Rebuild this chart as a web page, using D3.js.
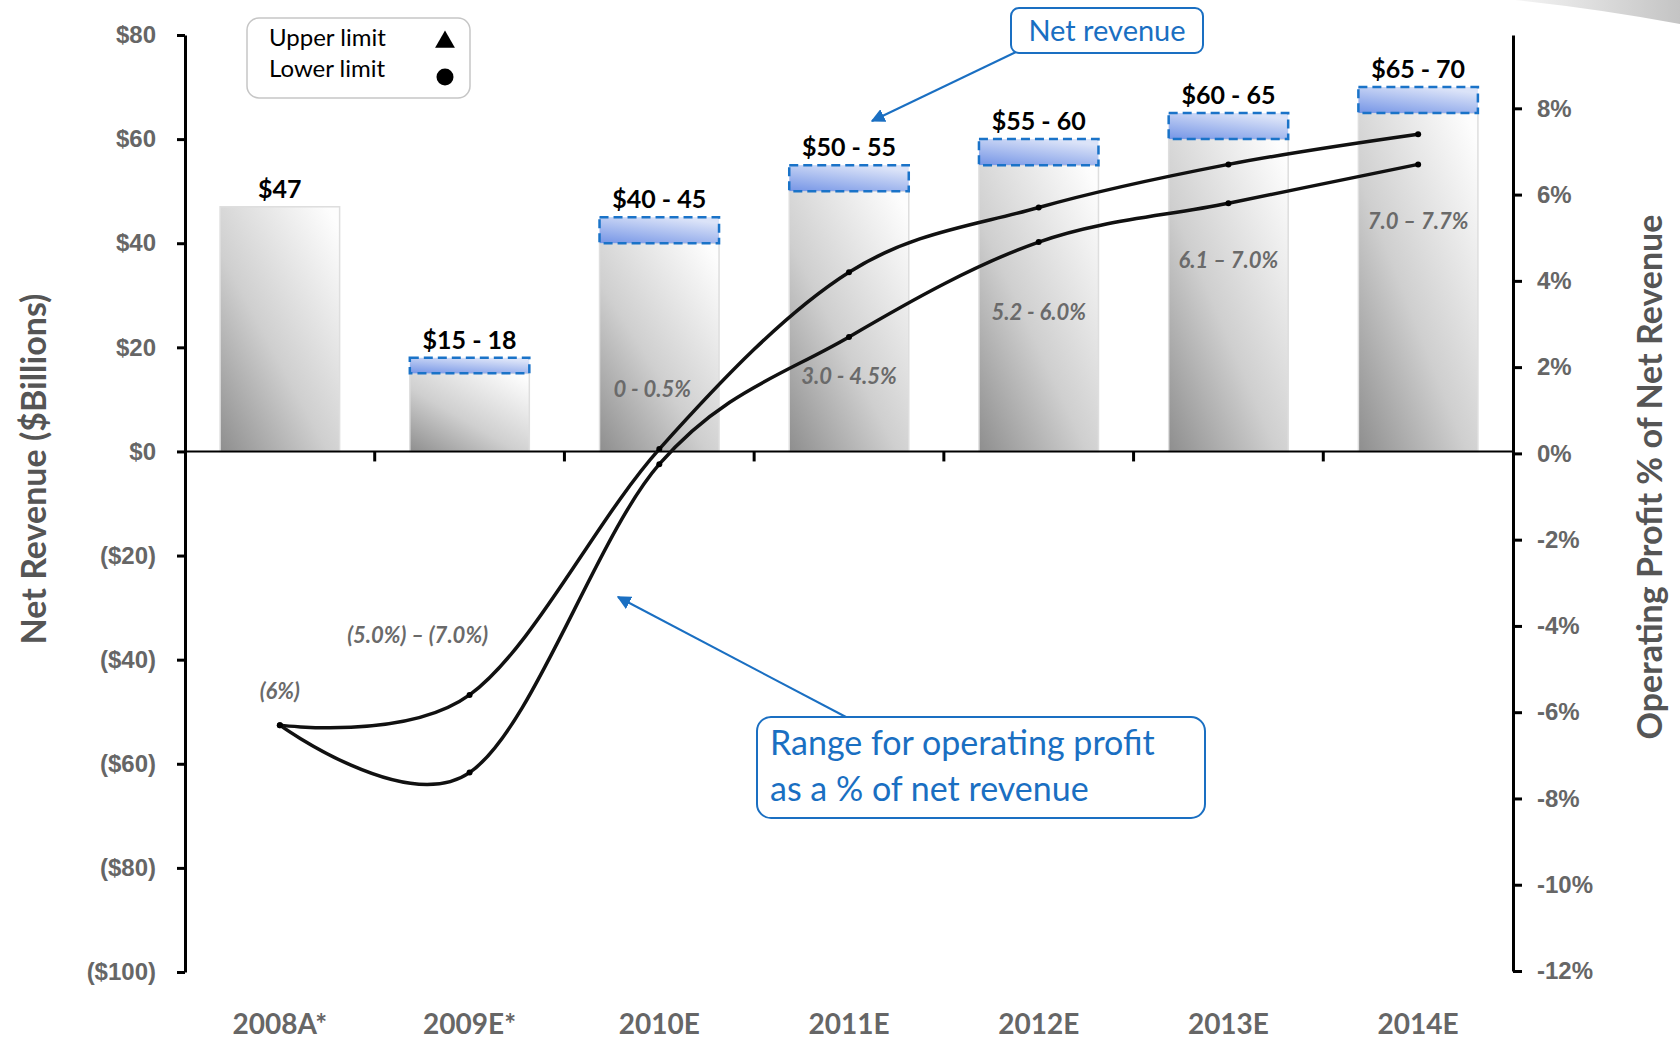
<!DOCTYPE html>
<html>
<head>
<meta charset="utf-8">
<script src="https://cdn.jsdelivr.net/npm/d3@7"></script>
<style>
  body { margin: 0; background: #fff; }
  svg { display: block; font-family: Lato, "DejaVu Sans", sans-serif; }
  .axis text { fill: #666; font-weight: bold; font-size: 24px; }
  .axis path, .axis line { stroke: #000; stroke-width: 3px; }
</style>
</head>
<body>
<svg width="1680" height="1046"></svg>
<script>
// **** Data ****
var categories = ["2008A*", "2009E*", "2010E", "2011E", "2012E", "2013E", "2014E"];
var revenueLow = [47, 15, 40, 50, 55, 60, 65];
var revenueHigh = [47, 18, 45, 55, 60, 65, 70];
var revenueLabels = ["$47", "$15 - 18", "$40 - 45", "$50 - 55", "$55 - 60", "$60 - 65", "$65 - 70"];
var marginUpper = [-6.3, -5.6, 0.1, 4.2, 5.7, 6.7, 7.4];
var marginLower = [-6.3, -7.4, -0.25, 2.7, 4.9, 5.8, 6.7];
var marginLabels = ["(6%)", "(5.0%) \u2013 (7.0%)", "0 - 0.5%", "3.0 - 4.5%", "5.2 - 6.0%", "6.1 \u2013 7.0%", "7.0 \u2013 7.7%"];
var marginLabelPct = [-5.5, -4.2, 1.5, 1.8, 3.3, 4.5, 5.4];
var revenueTicks = [80, 60, 40, 20, 0, -20, -40, -60, -80, -100];
var marginTicks = [8, 6, 4, 2, 0, -2, -4, -6, -8, -10, -12];

var svg = d3.select('svg');

// **** Scales ****
var x = d3.scaleBand().domain(categories).range([185, 1513])
    .paddingInner(0.37).paddingOuter(0.185);
var yL = d3.scaleLinear().domain([-100, 80]).range([972, 35]);
var yR = d3.scaleLinear().domain([-12, 9.7]).range([971, 35]);

function cx(c) { return x(c) + x.bandwidth() / 2; }

// **** Gradients ****
var defs = svg.append('defs');
var g1 = defs.append('linearGradient').attr('id', 'barGrad')
    .attr('x1', 0).attr('y1', 1).attr('x2', 0.9).attr('y2', 0);
g1.append('stop').attr('offset', '0%').attr('stop-color', '#8e8e8e');
g1.append('stop').attr('offset', '45%').attr('stop-color', '#cfcfcf');
g1.append('stop').attr('offset', '100%').attr('stop-color', '#fdfdfd');

var g2 = defs.append('linearGradient').attr('id', 'boxGrad')
    .attr('x1', 0).attr('y1', 1).attr('x2', 0.6).attr('y2', 0);
g2.append('stop').attr('offset', '0%').attr('stop-color', '#7595e6');
g2.append('stop').attr('offset', '100%').attr('stop-color', '#dbe3f8');

var g3 = defs.append('linearGradient').attr('id', 'swoosh')
    .attr('x1', 0).attr('y1', 0).attr('x2', 1).attr('y2', 0);
g3.append('stop').attr('offset', '0%').attr('stop-color', '#f4f4f4');
g3.append('stop').attr('offset', '100%').attr('stop-color', '#c4c4c4');

defs.append('marker').attr('id', 'arrow')
    .attr('viewBox', '0 0 10 10').attr('refX', 9).attr('refY', 5)
    .attr('markerWidth', 7).attr('markerHeight', 7).attr('markerUnits', 'strokeWidth')
    .attr('orient', 'auto')
    .append('path').attr('d', 'M0,0 L10,5 L0,10 Z').attr('fill', '#1a6fc2');

// decorative swoosh top right
svg.append('path')
    .attr('d', 'M1515,0 L1680,0 L1680,24 Q1600,9 1515,0 Z')
    .attr('fill', 'url(#swoosh)');

// **** Bars ****
svg.append('g').selectAll('rect')
    .data(categories)
    .enter()
    .append('rect')
    .attr('x', function (d) { return x(d); })
    .attr('y', function (d, i) { return yL(revenueLow[i]); })
    .attr('width', x.bandwidth())
    .attr('height', function (d, i) { return yL(0) - yL(revenueLow[i]); })
    .attr('fill', 'url(#barGrad)')
    .attr('stroke', '#dedede')
    .attr('stroke-width', 1.5);

// range boxes (blue, dashed)
svg.append('g').selectAll('rect')
    .data(categories.filter(function (d, i) { return revenueHigh[i] > revenueLow[i]; }))
    .enter()
    .append('rect')
    .attr('x', function (d) { return x(d); })
    .attr('y', function (d) { return yL(revenueHigh[categories.indexOf(d)]); })
    .attr('width', x.bandwidth())
    .attr('height', function (d) {
        var i = categories.indexOf(d);
        return yL(revenueLow[i]) - yL(revenueHigh[i]);
    })
    .attr('fill', 'url(#boxGrad)')
    .attr('stroke', '#1a73c8')
    .attr('stroke-width', 2.5)
    .attr('stroke-dasharray', '9,5');

// revenue labels
svg.append('g').selectAll('text')
    .data(categories)
    .enter()
    .append('text')
    .attr('x', function (d) { return cx(d); })
    .attr('y', function (d, i) { return yL(revenueHigh[i]) - 9; })
    .attr('text-anchor', 'middle')
    .style('font-size', '25px')
    .style('font-weight', 'bold')
    .style('fill', '#000')
    .text(function (d, i) { return revenueLabels[i]; });

// margin labels
var labelNudge = [0, -52, -7, 0, 0, 0, 0];
svg.append('g').selectAll('text')
    .data(categories)
    .enter()
    .append('text')
    .attr('x', function (d, i) { return cx(d) + labelNudge[i]; })
    .attr('y', function (d, i) { return yR(marginLabelPct[i]); })
    .attr('text-anchor', 'middle')
    .attr('dominant-baseline', 'central')
    .style('font-size', '22px')
    .style('font-weight', 'bold')
    .style('font-style', 'italic')
    .style('fill', '#6a6a6a')
    .text(function (d, i) { return marginLabels[i]; });

// **** Axes ****
svg.append('g').attr('class', 'axis')
    .attr('transform', 'translate(185,0)')
    .call(d3.axisLeft(yL).tickValues(revenueTicks).tickSize(8).tickSizeOuter(0).tickPadding(21)
        .tickFormat(function (d) { return d < 0 ? '($' + (-d) + ')' : '$' + d; }));

svg.append('g').attr('class', 'axis')
    .attr('transform', 'translate(1513,0)')
    .call(d3.axisRight(yR).tickValues(marginTicks).tickSize(9).tickSizeOuter(0).tickPadding(15)
        .tickFormat(function (d) { return d + '%'; }));

// zero line
svg.append('line')
    .attr('x1', 185).attr('x2', 1513)
    .attr('y1', yL(0)).attr('y2', yL(0))
    .attr('stroke', '#000').attr('stroke-width', 2);

// category separators on zero line
svg.append('g').selectAll('line')
    .data(categories.slice(1))
    .enter()
    .append('line')
    .attr('x1', function (d) { return x(d) - x.step() * x.paddingInner() / 2; })
    .attr('x2', function (d) { return x(d) - x.step() * x.paddingInner() / 2; })
    .attr('y1', yL(0)).attr('y2', yL(0) + 10)
    .attr('stroke', '#000').attr('stroke-width', 3);

// category labels
svg.append('g').selectAll('text')
    .data(categories)
    .enter()
    .append('text')
    .attr('x', function (d) { return cx(d); })
    .attr('y', 1034)
    .attr('text-anchor', 'middle')
    .style('font-size', '28px')
    .style('font-weight', 'bold')
    .style('fill', '#666')
    .text(function (d) { return d; });

// axis titles
svg.append('text')
    .attr('transform', 'translate(32,469) rotate(-90)')
    .attr('text-anchor', 'middle')
    .attr('dominant-baseline', 'central')
    .style('font-size', '34px')
    .style('font-weight', 'bold')
    .style('fill', '#555')
    .text('Net Revenue ($Billions)');

svg.append('text')
    .attr('transform', 'translate(1648,477) rotate(-90)')
    .attr('text-anchor', 'middle')
    .attr('dominant-baseline', 'central')
    .style('font-size', '34px')
    .style('font-weight', 'bold')
    .style('fill', '#555')
    .text('Operating Profit % of Net Revenue');

// **** Margin curves ****
var line = d3.line()
    .x(function (d, i) { return cx(categories[i]); })
    .y(function (d) { return yR(d); })
    .curve(d3.curveCardinal.tension(0));

[marginUpper, marginLower].forEach(function (series) {
    svg.append('path')
        .datum(series)
        .attr('d', line)
        .attr('fill', 'none')
        .attr('stroke', '#111')
        .attr('stroke-width', 3.5);
    svg.append('g').selectAll('circle')
        .data(series)
        .enter()
        .append('circle')
        .attr('cx', function (d, i) { return cx(categories[i]); })
        .attr('cy', function (d) { return yR(d); })
        .attr('r', 3)
        .attr('fill', '#000');
});

// **** Legend ****
svg.append('rect')
    .attr('x', 247).attr('y', 18).attr('width', 223).attr('height', 80).attr('rx', 12)
    .attr('fill', '#fff').attr('stroke', '#c6c6c6').attr('stroke-width', 1.5);
svg.append('text').attr('x', 269).attr('y', 46).text('Upper limit')
    .style('font-size', '24px').style('fill', '#000');
svg.append('text').attr('x', 269).attr('y', 77).text('Lower limit')
    .style('font-size', '24px').style('fill', '#000');
svg.append('path')
    .attr('transform', 'translate(445,42)')
    .attr('d', d3.symbol().type(d3.symbolTriangle).size(170))
    .attr('fill', '#000');
svg.append('circle')
    .attr('cx', 445).attr('cy', 77).attr('r', 8.5).attr('fill', '#000');

// **** Callouts ****
var blue = '#1a6fc2';
svg.append('line')
    .attr('x1', 1016).attr('y1', 52).attr('x2', 872).attr('y2', 121)
    .attr('stroke', blue).attr('stroke-width', 2).attr('marker-end', 'url(#arrow)');
svg.append('rect')
    .attr('x', 1011).attr('y', 8).attr('width', 192).attr('height', 45).attr('rx', 8)
    .attr('fill', '#fff').attr('stroke', blue).attr('stroke-width', 2);
svg.append('text')
    .attr('x', 1107).attr('y', 41).attr('text-anchor', 'middle')
    .style('font-size', '29px').style('fill', blue)
    .text('Net revenue');

svg.append('line')
    .attr('x1', 846).attr('y1', 717).attr('x2', 618).attr('y2', 597)
    .attr('stroke', blue).attr('stroke-width', 2).attr('marker-end', 'url(#arrow)');
svg.append('rect')
    .attr('x', 757).attr('y', 717).attr('width', 448).attr('height', 101).attr('rx', 14)
    .attr('fill', '#fff').attr('stroke', blue).attr('stroke-width', 2);
svg.append('text')
    .attr('x', 770).attr('y', 755)
    .style('font-size', '34px').style('fill', blue)
    .text('Range for operating profit');
svg.append('text')
    .attr('x', 770).attr('y', 801)
    .style('font-size', '34px').style('fill', blue)
    .text('as a % of net revenue');
</script>
</body>
</html>
